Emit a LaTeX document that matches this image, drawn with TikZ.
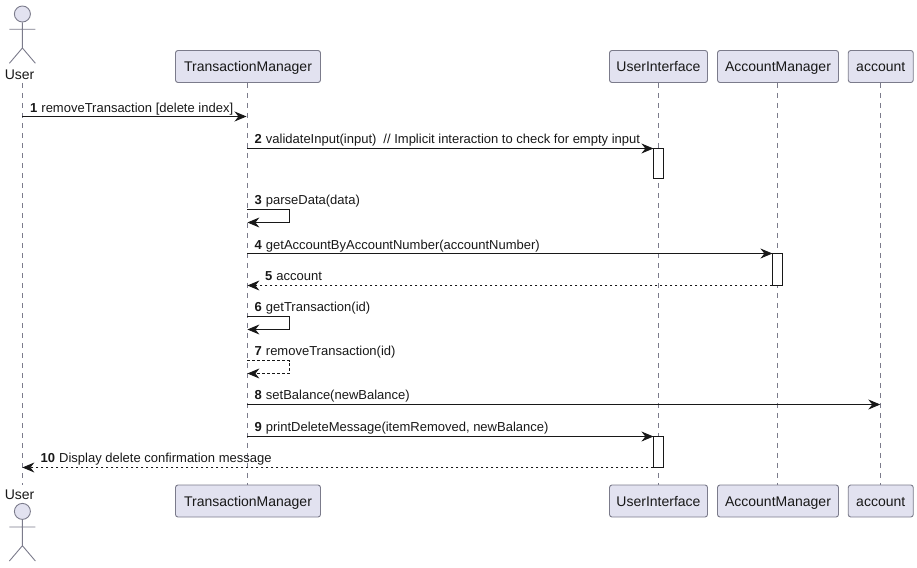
\documentclass[tikz,border=0pt]{standalone}
\usepackage{fontspec}
\setmainfont{Liberation Sans}
\usetikzlibrary{arrows.meta}
\definecolor{partfill}{HTML}{E2E2F0}
\definecolor{partline}{HTML}{7B7B8B}
\definecolor{ink}{HTML}{181818}
\tikzset{
  x=1pt,y=-1pt,
  part/.style={draw=partline,fill=partfill,rounded corners=2.5pt,line width=0.9pt,font=\fontsize{14}{16}\selectfont,text=ink,inner sep=0pt,text height=12pt,text depth=1pt,minimum height=32pt,anchor=center},
  actorlabel/.style={font=\fontsize{14}{16}\selectfont,text=ink,inner sep=0pt},
  life/.style={draw=partline,line width=0.9pt,dash pattern=on 5pt off 5pt},
  stick/.style={draw=partline,line width=0.9pt},
  head/.style={circle,draw=partline,fill=partfill,line width=0.9pt,minimum size=16pt,inner sep=0pt},
  act/.style={draw=ink,fill=white,line width=0.9pt,minimum width=10pt,inner sep=0pt,outer sep=0pt},
  msg/.style={draw=ink,line width=0.9pt,-{Stealth[length=12pt,width=10pt,inset=4pt]}},
  ret/.style={msg,dash pattern=on 2.5pt off 2.5pt},
  lab/.style={anchor=base west,inner sep=0pt,font=\fontsize{13}{15}\selectfont,text=ink},
}
\newcommand{\labl}[4]{\node[lab] (#1) at (#2,#3) {#4};}
\begin{document}
\begin{tikzpicture}
\useasboundingbox (0,0) rectangle (917,567);
% participant boxes
\node[part,minimum width=145pt] (tmT) at (248,66.5) {TransactionManager};
\node[part,minimum width=98pt] (uiT) at (658.5,66.5) {UserInterface};
\node[part,minimum width=121pt] (amT) at (778,66.5) {AccountManager};
\node[part,minimum width=65pt] (acT) at (880.75,66.5) {account};
\node[part,minimum width=145pt] (tmB) at (248,501) {TransactionManager};
\node[part,minimum width=98pt] (uiB) at (658.5,501) {UserInterface};
\node[part,minimum width=121pt] (amB) at (778,501) {AccountManager};
\node[part,minimum width=65pt] (acB) at (880.75,501) {account};
% actors
\node[actorlabel] (userT) at (19.6,74.5) {User};
\node[actorlabel] (userB) at (19.6,494.5) {User};
\node[head] (headT) at (22.4,14) {};
\node[head] (headB) at (22.4,511.4) {};
\coordinate (hipT) at (22.4,48);
\coordinate (armLT) at (9.4,29.3);
\coordinate (armRT) at (35.4,29.3);
\coordinate (legLT) at (9.4,63.3);
\coordinate (legRT) at (35.4,63.3);
\coordinate (hipB) at (22.4,545.7);
\coordinate (armLB) at (9.4,527);
\coordinate (armRB) at (35.4,527);
\coordinate (legLB) at (9.4,561);
\coordinate (legRB) at (35.4,561);
\draw[stick] (headT.south) -- (hipT) (armLT) -- (armRT) (legLT) -- (hipT) -- (legRT);
\draw[stick] (headB.south) -- (hipB) (armLB) -- (armRB) (legLB) -- (hipB) -- (legRB);
% lifelines
\coordinate (uLt) at (22.4,83);
\coordinate (uLb) at (22.4,485);
\draw[life] (uLt) -- (uLb);
\draw[life] ([xshift=-0.6pt]tmT.south) -- ([xshift=-0.6pt]tmB.north);
\draw[life] ([xshift=-0.2pt]uiT.south) -- ([xshift=-0.2pt]uiB.north);
\draw[life] ([xshift=-0.6pt]amT.south) -- ([xshift=-0.6pt]amB.north);
\draw[life] ([xshift=-0.4pt]acT.south) -- ([xshift=-0.4pt]acB.north);
% activations
\node[act,minimum height=30pt] (a1) at (658.4,163.5) {};
\node[act,minimum height=32pt] (a2) at (777.4,269.5) {};
\node[act,minimum height=31pt] (a3) at (658.4,452) {};
% message anchors
\coordinate (u1) at (22.4,116.5);
\coordinate (t1) at (246.5,116.5);
\coordinate (t2) at (247.4,148.5);
\coordinate (t3) at (247.4,209.5);
\coordinate (t3a) at (289.5,209.5);
\coordinate (t3b) at (289.5,222.5);
\coordinate (t3c) at (247.4,222.5);
\coordinate (t4) at (247.4,253.5);
\coordinate (t5) at (247.4,285.5);
\coordinate (t6) at (247.4,316.5);
\coordinate (t6a) at (289.5,316.5);
\coordinate (t6b) at (289.5,329.5);
\coordinate (t6c) at (247.4,329.5);
\coordinate (t7) at (247.4,360.5);
\coordinate (t7a) at (289.5,360.5);
\coordinate (t7b) at (289.5,373.5);
\coordinate (t7c) at (247.4,373.5);
\coordinate (t8) at (247.4,404.5);
\coordinate (c8) at (880.3,404.5);
\coordinate (t9) at (247.4,436.5);
\coordinate (u10) at (22.4,467.5);
% messages
\draw[msg] (u1) -- (t1);
\draw[msg] (t2) -- (a1.north west);
\draw[msg] (t3) -- (t3a) -- (t3b) -- (t3c);
\draw[msg] (t4) -- (a2.north west);
\draw[ret] (a2.south west) -- (t5);
\draw[msg] (t6) -- (t6a) -- (t6b) -- (t6c);
\draw[ret] (t7) -- (t7a) -- (t7b) -- (t7c);
\draw[msg] (t8) -- (c8);
\draw[msg] (t9) -- (a3.north west);
\draw[ret] (a3.south west) -- (u10);
% labels
\newcommand{\num}[1]{\textbf{#1}\hspace{4pt}}
\labl{m1}{30}{112.4}{\num{1}removeTransaction [delete index]}
\labl{m2}{254.5}{143.6}{\num{2}validateInput(input)\hspace{7pt}// Implicit interaction to check for empty input}
\labl{m3}{254.5}{204.6}{\num{3}parseData(data)}
\labl{m4}{254.5}{249}{\num{4}getAccountByAccountNumber(accountNumber)}
\labl{m5}{265}{280.6}{\num{5}account}
\labl{m6}{254.5}{311.6}{\num{6}getTransaction(id)}
\labl{m7}{254.5}{355.6}{\num{7}removeTransaction(id)}
\labl{m8}{254.5}{399.6}{\num{8}setBalance(newBalance)}
\labl{m9}{254.5}{431.6}{\num{9}printDeleteMessage(itemRemoved, newBalance)}
\labl{m10}{40.5}{462.6}{\num{10}Display delete confirmation message}
\end{tikzpicture}
\end{document}
